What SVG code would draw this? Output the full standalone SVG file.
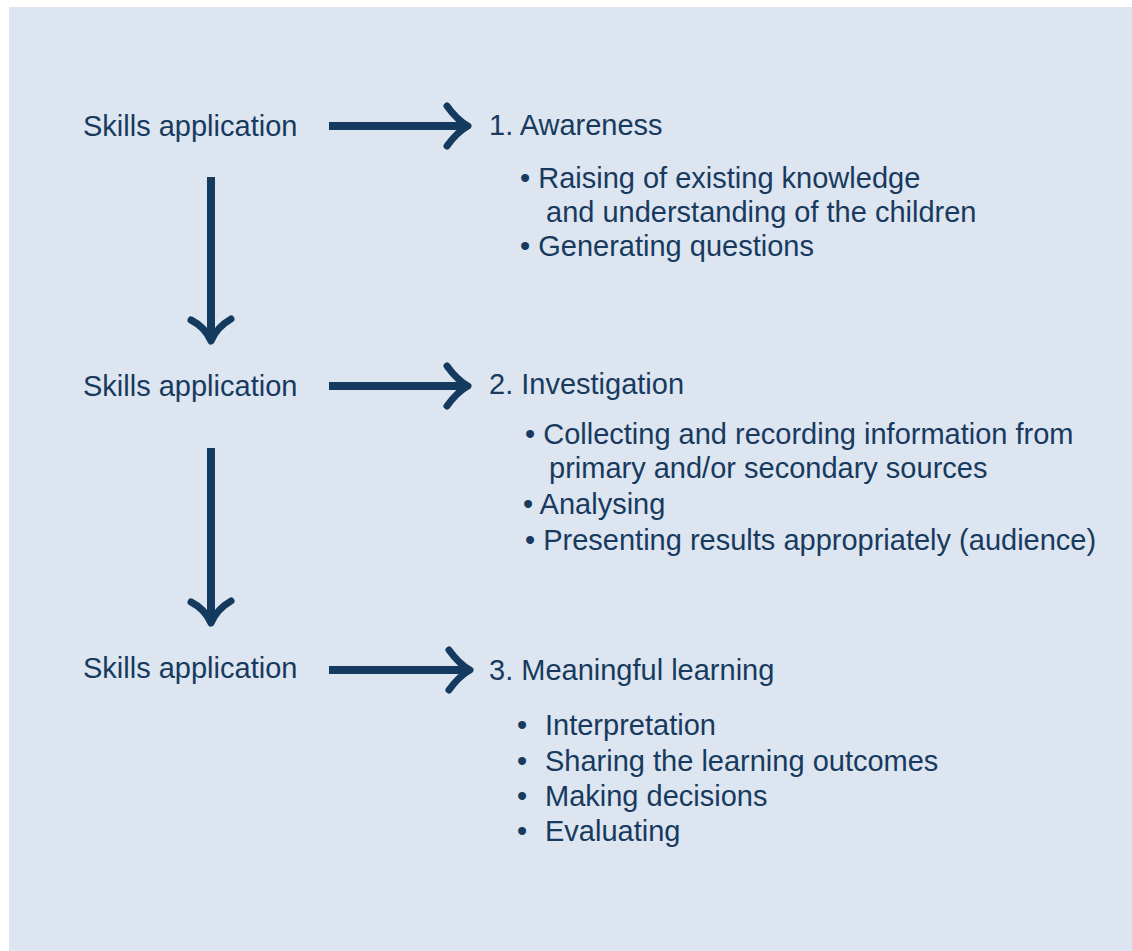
<svg xmlns="http://www.w3.org/2000/svg" width="1132" height="951" viewBox="0 0 1132 951">
  <style>
    .t { font-family: "Liberation Sans", Arial, sans-serif; font-size: 29px; fill: #173a5e; }
    .shaft { stroke: #143a60; stroke-width: 8; fill: none; }
    .head { stroke: #143a60; stroke-width: 7; fill: none; stroke-linecap: round; stroke-linejoin: round; }
  </style>
  <rect x="9" y="7" width="1123" height="944" fill="#dce5f0"/>

  <g id="skills1"><text class="t" x="83" y="136">Skills application</text></g>
  <g id="skills2"><text class="t" x="83" y="396">Skills application</text></g>
  <g id="skills3"><text class="t" x="83" y="678">Skills application</text></g>

  <g id="awareness">
    <text class="t" x="489" y="135">1. Awareness</text>
    <text class="t" x="520" y="188">• Raising of existing knowledge</text>
    <text class="t" x="546" y="222">and understanding of the children</text>
    <text class="t" x="520" y="256">• Generating questions</text>
  </g>

  <g id="investigation">
    <text class="t" x="489" y="394">2. Investigation</text>
    <text class="t" x="525" y="444">• Collecting and recording information from</text>
    <text class="t" x="549" y="478">primary and/or secondary sources</text>
    <text class="t" x="523" y="514">• Analysing</text>
    <text class="t" x="525" y="550">• Presenting results appropriately (audience)</text>
  </g>

  <g id="meaningful">
    <text class="t" x="489" y="680">3. Meaningful learning</text>
    <text class="t" x="517" y="735">•<tspan x="545">Interpretation</tspan></text>
    <text class="t" x="517" y="771">•<tspan x="545">Sharing the learning outcomes</tspan></text>
    <text class="t" x="517" y="806">•<tspan x="545">Making decisions</tspan></text>
    <text class="t" x="517" y="841">•<tspan x="545">Evaluating</tspan></text>
  </g>

  <g id="connectors">
    <line class="shaft" x1="329" y1="126" x2="465" y2="126"/>
    <path class="head" d="M447,106 Q457,120 468,126 Q457,132 447,146"/>
    <line class="shaft" x1="329" y1="386" x2="465" y2="386"/>
    <path class="head" d="M447,366 Q457,380 468,386 Q457,392 447,406"/>
    <line class="shaft" x1="329" y1="670" x2="467" y2="670"/>
    <path class="head" d="M449,650 Q459,664 470,670 Q459,676 449,690"/>

    <line class="shaft" x1="211" y1="177" x2="211" y2="338"/>
    <path class="head" d="M191,320 Q205,327 211,341 Q217,327 231,319"/>
    <line class="shaft" x1="211" y1="448" x2="211" y2="620"/>
    <path class="head" d="M191,602 Q205,609 211,623 Q217,609 231,601"/>
  </g>
</svg>
